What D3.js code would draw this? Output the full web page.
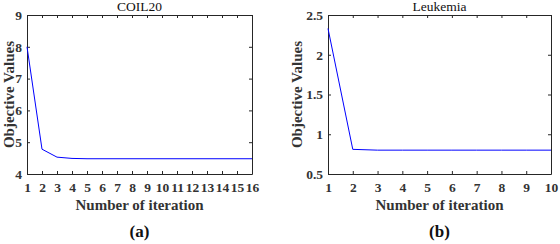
<!DOCTYPE html>
<html><head><meta charset="utf-8">
<script src="https://cdn.jsdelivr.net/npm/d3@7"></script>
<style>
body{margin:0;background:#fff;}
</style></head>
<body><svg id="c" width="560" height="244"></svg>
<script>
const coilIter = [1,2,3,4,5,6,7,8,9,10,11,12,13,14,15,16];
const coilValues = [8.0,4.78,4.53,4.49,4.48,4.48,4.48,4.48,4.48,4.48,4.48,4.48,4.48,4.48,4.48,4.48];
const coilYTicks = [4,5,6,7,8,9];
const leukIter = [1,2,3,4,5,6,7,8,9,10];
const leukValues = [2.33,0.81,0.80,0.80,0.80,0.80,0.80,0.80,0.80,0.80];
const leukYTicks = [0.5,1,1.5,2,2.5];
const titles = ["COIL20","Leukemia"];
const panelLabels = ["(a)","(b)"];

const FONT = "Liberation Serif, Times New Roman, DejaVu Serif, serif";
const svg = d3.select("#c");
const panels = [
  {x:coilIter, y:coilValues, yt:coilYTicks, ydom:[4,9], left:27, right:252, title:titles[0], lab:panelLabels[0], ylabX:9},
  {x:leukIter, y:leukValues, yt:leukYTicks, ydom:[0.5,2.5], left:328, right:551, title:titles[1], lab:panelLabels[1], ylabX:297}
];
const plotTop=15, plotBottom=174;
panels.forEach(p=>{
  const xs = d3.scaleLinear().domain([p.x[0], p.x[p.x.length-1]]).range([p.left,p.right]);
  const ys = d3.scaleLinear().domain(p.ydom).range([plotBottom,plotTop]);
  const g = svg.append("g");
  const fmt = d=>String(d);
  const axB = g.append("g").attr("transform",`translate(0,${plotBottom})`).call(d3.axisBottom(xs).tickValues(p.x).tickFormat(fmt).tickSizeInner(-3).tickSizeOuter(0).tickPadding(8));
  const axT = g.append("g").attr("transform",`translate(0,${plotTop})`).call(d3.axisTop(xs).tickValues(p.x).tickFormat("").tickSizeInner(-3).tickSizeOuter(0));
  const axL = g.append("g").attr("transform",`translate(${p.left},0)`).call(d3.axisLeft(ys).tickValues(p.yt).tickFormat(fmt).tickSizeInner(-3).tickSizeOuter(0).tickPadding(5));
  const axR = g.append("g").attr("transform",`translate(${p.right},0)`).call(d3.axisRight(ys).tickValues(p.yt).tickFormat("").tickSizeInner(-3).tickSizeOuter(0));
  [axB,axT,axL,axR].forEach(a=>{
    a.attr("font-family",FONT);
    a.selectAll("path").attr("stroke","#262626").attr("stroke-width",1);
    a.selectAll("line").attr("stroke","#262626");
    a.selectAll("text").attr("font-family",FONT).attr("font-size",13.5).attr("font-weight","bold").attr("fill","#333");
  });
  axB.selectAll("text").attr("dy","0.71em");
  g.append("path").datum(p.x.map((d,i)=>[d,p.y[i]]))
    .attr("fill","none").attr("stroke","#0000ff").attr("stroke-width",1)
    .attr("d", d3.line().x(d=>xs(d[0])).y(d=>ys(d[1])));
  const cx=(p.left+p.right)/2;
  g.append("text").attr("x",cx).attr("y",11).attr("text-anchor","middle").attr("font-family",FONT).attr("font-size",13.5).attr("fill","#111").text(p.title);
  g.append("text").attr("x",cx).attr("y",210).attr("text-anchor","middle").attr("font-family",FONT).attr("font-size",15).attr("font-weight","bold").attr("fill","#333").text("Number of iteration");
  const yc=(plotTop+plotBottom)/2, lx=p.ylabX+5;
  g.append("text").attr("x",lx).attr("y",yc).attr("transform",`rotate(-90,${lx},${yc})`)
    .attr("text-anchor","middle").attr("font-family",FONT).attr("font-size",15).attr("font-weight","bold").attr("fill","#333").text("Objective Values");
  g.append("text").attr("x",cx).attr("y",237).attr("text-anchor","middle").attr("font-family",FONT).attr("font-size",17).attr("font-weight","bold").attr("fill","#111").text(p.lab);
});
</script></body></html>
